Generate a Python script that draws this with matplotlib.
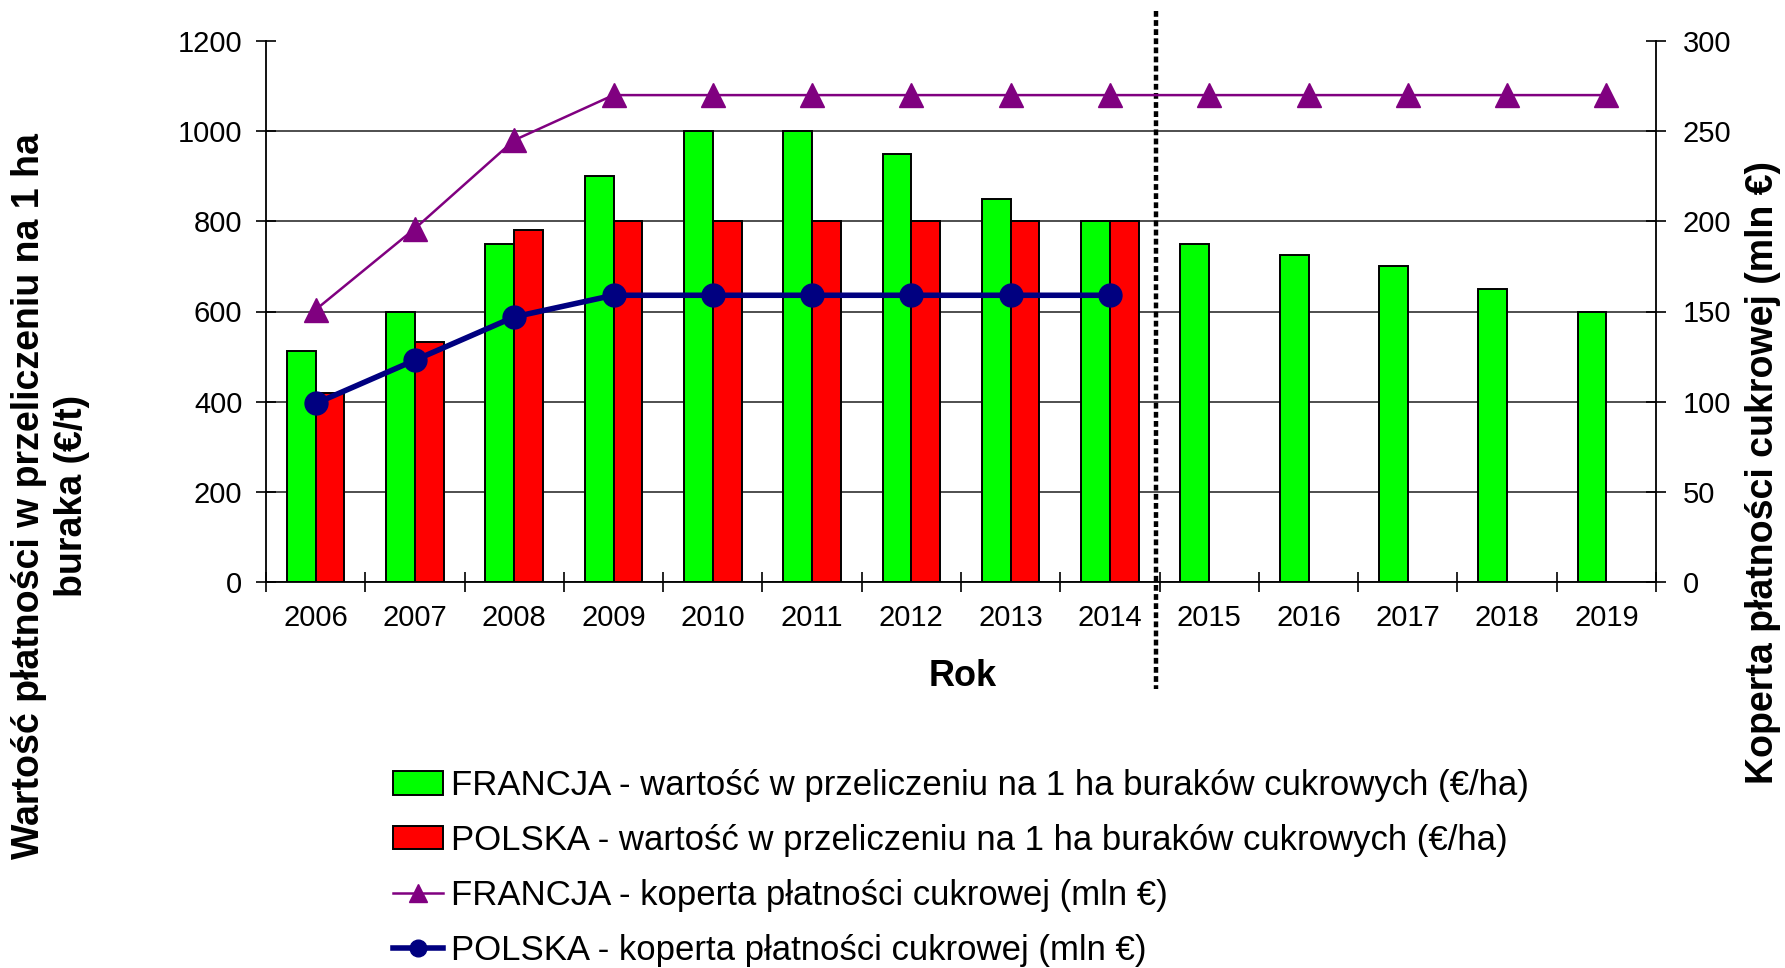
import matplotlib
matplotlib.use('Agg')
import matplotlib.pyplot as plt
import numpy as np
from matplotlib import font_manager
from matplotlib.patches import Patch
from matplotlib.lines import Line2D
from matplotlib.transforms import blended_transform_factory

# ---------------- data ----------------
years = ['2006', '2007', '2008', '2009', '2010', '2011', '2012',
         '2013', '2014', '2015', '2016', '2017', '2018', '2019']
francja_ha = [512, 600, 750, 900, 1000, 1000, 950, 850, 800, 750, 725, 700, 650, 600]
polska_ha = [420, 532, 780, 800, 800, 800, 800, 800, 800]
francja_env = [151, 196, 245, 270, 270, 270, 270, 270, 270, 270, 270, 270, 270, 270]
polska_env = [99, 123, 147, 159, 159, 159, 159, 159, 159]
left_ticks = [0, 200, 400, 600, 800, 1000, 1200]
right_ticks = [0, 50, 100, 150, 200, 250, 300]

lbl_fr_ha = 'FRANCJA - wartość w przeliczeniu na 1 ha buraków cukrowych (€/ha)'
lbl_pl_ha = 'POLSKA - wartość w przeliczeniu na 1 ha buraków cukrowych (€/ha)'
lbl_fr_env = 'FRANCJA - koperta płatności cukrowej (mln €)'
lbl_pl_env = 'POLSKA - koperta płatności cukrowej (mln €)'
xlabel = 'Rok'
ylabel_left = 'Wartość płatności w przeliczeniu na 1 ha\nburaka (€/t)'
ylabel_right = 'Koperta płatności cukrowej (mln €)'

# ---------------- fonts ----------------
names = {f.name for f in font_manager.fontManager.ttflist}
base = 'Liberation Sans' if 'Liberation Sans' in names else 'DejaVu Sans'
plt.rcParams['font.family'] = [base, 'DejaVu Sans']

W, H = 1785, 968
fig = plt.figure(figsize=(W / 100, H / 100), dpi=100)
L, R, T, B = 266, 1656, 41, 582
ax = fig.add_axes([L / W, 1 - B / H, (R - L) / W, (B - T) / H])

x = np.arange(len(years))
bw = 0.29
ax.bar(x - bw / 2, francja_ha, bw, color='#00FF00', edgecolor='black', linewidth=1.4, zorder=2)
ax.bar(x[:len(polska_ha)] + bw / 2, polska_ha, bw, color='#FF0000', edgecolor='black',
       linewidth=1.4, zorder=2)

ax.set_xlim(-0.5, len(years) - 0.5)
ax.set_ylim(left_ticks[0], left_ticks[-1])
ax.set_yticks(left_ticks)
ax.set_xticks(x)
ax.set_xticklabels(years)
ax.set_xticks(np.arange(-0.5, len(years), 1), minor=True)
ax.tick_params(axis='x', which='major', length=0, pad=16, labelsize=21)
ax.tick_params(axis='x', which='minor', length=14, width=1.2, direction='inout')
ax.tick_params(axis='y', length=14, width=1.2, direction='inout', pad=10, labelsize=21)
ax.grid(axis='y', color='#404040', linewidth=1.3, zorder=0)
ax.set_axisbelow(True)
ax.yaxis.get_gridlines()[-1].set_visible(False)
ax.spines['top'].set_visible(False)
ax.spines['right'].set_visible(False)
for s in ('left', 'bottom'):
    ax.spines[s].set_linewidth(1.3)

ax2 = ax.twinx()
ax2.set_ylim(right_ticks[0], right_ticks[-1])
ax2.set_yticks(right_ticks)
ax2.tick_params(axis='y', length=14, width=1.2, direction='inout', pad=12, labelsize=21)
for s in ('top', 'left', 'bottom'):
    ax2.spines[s].set_visible(False)
ax2.spines['right'].set_linewidth(1.3)
ax2.plot(x, francja_env, color='#800080', linewidth=1.8, marker='^', markersize=17, zorder=3)
ax2.plot(x[:len(polska_env)], polska_env, color='#000080', linewidth=4.0, marker='o',
         markersize=16.5, zorder=4)

# dotted divider between historical and projected values
trans = blended_transform_factory(ax.transData, fig.transFigure)
div_x = len(polska_ha) - 0.54
ax.add_line(Line2D([div_x, div_x], [1 - 11 / H, 1 - 689 / H], transform=trans, color='black',
                   linewidth=3.2, linestyle=(0, (1.3, 0.75)), solid_capstyle='butt',
                   dash_capstyle='butt', clip_on=False, zorder=5))

# labels
fig.text(963 / W, 1 - 676 / H, xlabel, ha='center', va='center', fontsize=26, fontweight='bold')
fig.text(51 / W, 1 - 496 / H, ylabel_left, rotation=90, ha='center', va='center',
         multialignment='center', fontsize=27, fontweight='bold', linespacing=1.25)
fig.text(1763 / W, 1 - 473 / H, ylabel_right, rotation=90, ha='center', va='center',
         fontsize=27, fontweight='bold')

# legend
handles = [
    Patch(facecolor='#00FF00', edgecolor='black', linewidth=1.4),
    Patch(facecolor='#FF0000', edgecolor='black', linewidth=1.4),
    Line2D([], [], color='#800080', linewidth=1.8, marker='^', markersize=13),
    Line2D([], [], color='#000080', linewidth=4.0, marker='o', markersize=12),
]
fig.legend(handles, [lbl_fr_ha, lbl_pl_ha, lbl_fr_env, lbl_pl_env],
           loc='center left', bbox_to_anchor=(393 / W, 1 - 868 / H), frameon=False,
           prop={'family': [base, 'DejaVu Sans'], 'size': 25},
           handlelength=1.45, handleheight=0.65, handletextpad=0.22,
           labelspacing=0.63, borderpad=0, borderaxespad=0)

fig.savefig('out.png', dpi=100)
